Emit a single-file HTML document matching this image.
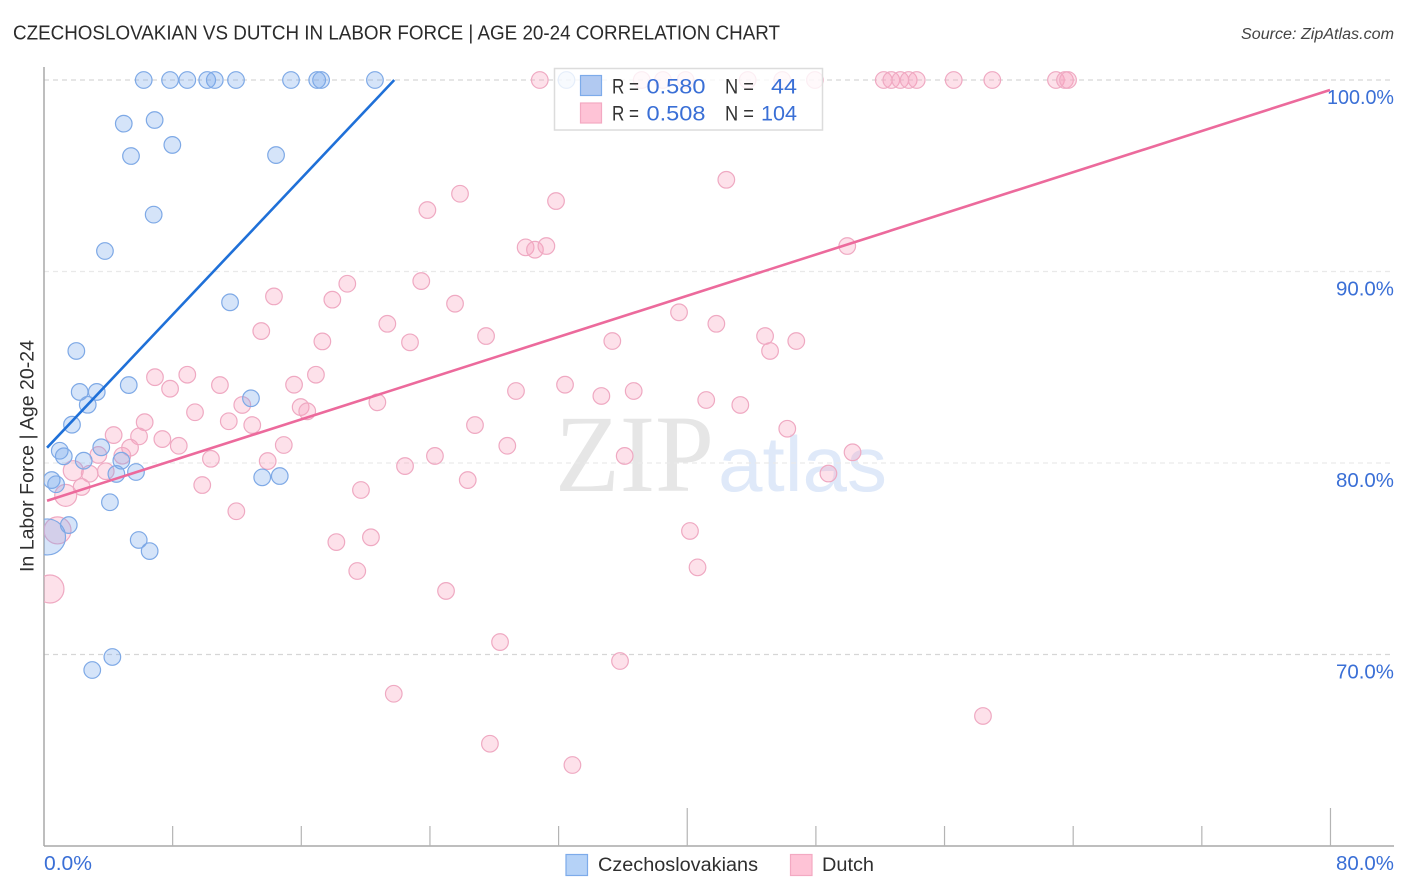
<!DOCTYPE html>
<html lang="en">
<head>
<meta charset="utf-8">
<title>Czechoslovakian vs Dutch in Labor Force | Age 20-24 Correlation Chart</title>
<style>
html,body{margin:0;padding:0;background:#fff;}
svg{display:block;font-family:"Liberation Sans",sans-serif;}
</style>
</head>
<body>
<svg id="chart" xmlns="http://www.w3.org/2000/svg" width="1406" height="892" viewBox="0 0 1406 892">
  <defs>
    <clipPath id="plot-clip"><rect x="44" y="60" width="1350" height="786"/></clipPath>
  </defs>
  <rect x="0" y="0" width="1406" height="892" fill="#ffffff"/>
  <text x="13" y="39.5" font-size="20" fill="#2b2b2b" textLength="767" lengthAdjust="spacingAndGlyphs">CZECHOSLOVAKIAN VS DUTCH IN LABOR FORCE | AGE 20-24 CORRELATION CHART</text>
  <text x="1241" y="39" font-size="15.5" font-style="italic" fill="#444444" textLength="153" lengthAdjust="spacingAndGlyphs">Source: ZipAtlas.com</text>
  <text x="555" y="491" font-family="'Liberation Serif',serif" font-size="110" fill="#e6e6e6" textLength="159" lengthAdjust="spacingAndGlyphs">ZIP</text>
  <text x="718" y="491" font-size="78" fill="#dfe9f9" textLength="169" lengthAdjust="spacingAndGlyphs">atlas</text>
  <g id="grid"></g>
  <g id="axes"></g>
  <g id="pink-points" clip-path="url(#plot-clip)"></g>
  <g id="blue-points" clip-path="url(#plot-clip)"></g>
  <g id="trends"></g>
  <g id="tick-labels" font-size="20" fill="#3a6fd6"></g>
  <text transform="translate(33.5,572) rotate(-90)" font-size="19" fill="#2f2f2f" textLength="232" lengthAdjust="spacingAndGlyphs">In Labor Force | Age 20-24</text>

  <g>
    <rect x="554.5" y="68.5" width="268" height="61.5" fill="#ffffff" fill-opacity="0.8" stroke="#dcdcdc" stroke-width="1.5"/>
    <rect x="580.5" y="75.5" width="21" height="20" fill="#b1c9f1" stroke="#7dabea" stroke-width="1.2"/>
    <rect x="580.5" y="103" width="21" height="20" fill="#fec3d6" stroke="#f3a9c2" stroke-width="1.2"/>
    <g font-size="21">
      <text x="612" y="93.5" fill="#333333" textLength="27" lengthAdjust="spacingAndGlyphs">R =</text>
      <text x="646.5" y="93.5" fill="#3a6fd6" textLength="59" lengthAdjust="spacingAndGlyphs">0.580</text>
      <text x="725" y="93.5" fill="#333333" textLength="29" lengthAdjust="spacingAndGlyphs">N =</text>
      <text x="771" y="93.5" fill="#3a6fd6" textLength="26" lengthAdjust="spacingAndGlyphs">44</text>
      <text x="612" y="120.5" fill="#333333" textLength="27" lengthAdjust="spacingAndGlyphs">R =</text>
      <text x="646.5" y="120.5" fill="#3a6fd6" textLength="59" lengthAdjust="spacingAndGlyphs">0.508</text>
      <text x="725" y="120.5" fill="#333333" textLength="29" lengthAdjust="spacingAndGlyphs">N =</text>
      <text x="761" y="120.5" fill="#3a6fd6" textLength="36" lengthAdjust="spacingAndGlyphs">104</text>
    </g>
  </g>

  <g>
    <rect x="566" y="854.5" width="21.5" height="21" fill="#b5d2f7" stroke="#7dabea" stroke-width="1.2"/>
    <text x="598" y="871" font-size="19" fill="#2f2f2f" textLength="160" lengthAdjust="spacingAndGlyphs">Czechoslovakians</text>
    <rect x="790.5" y="854.5" width="21.5" height="21" fill="#fec3d6" stroke="#f3a9c2" stroke-width="1.2"/>
    <text x="822" y="871" font-size="19" fill="#2f2f2f" textLength="52" lengthAdjust="spacingAndGlyphs">Dutch</text>
  </g>
</svg>
<script>
const yTickValues = [100, 90, 80, 70];
const yTickLabels = ["100.0%", "90.0%", "80.0%", "70.0%"];
const xTickValues = [8, 16, 24, 32, 40, 48, 56, 64, 72, 80];
const xMajorTicks = [40, 80];
const xEndValues = [0, 80];
const xEndLabels = ["0.0%", "80.0%"];

const blueX = [0.22, 6.20, 7.84, 8.91, 10.15, 10.62, 11.94, 15.36, 16.99, 17.23, 20.58, 32.49,
  4.96, 6.88, 7.98, 5.41, 14.43, 6.82, 3.79, 11.57, 2.01, 2.22, 3.28, 5.27, 2.72, 1.74, 12.87,
  0.98, 1.23, 3.56, 2.47, 4.81, 4.50, 5.72, 13.57, 14.66, 0.48, 0.75, 4.10, 1.54, 5.89, 6.57, 4.25, 3.00];
const blueY = [76.14, 100, 100, 100, 100, 100, 100, 100, 100, 100, 100, 100,
  97.72, 97.91, 96.61, 96.03, 96.08, 92.97, 91.07, 88.39, 85.85, 83.71, 83.71, 84.07, 83.04, 82.00, 83.38,
  80.64, 80.35, 80.82, 80.12, 80.12, 79.43, 79.53, 79.25, 79.32, 79.11, 78.89, 77.95, 76.76, 75.98, 75.40, 69.87, 69.19];
const blueWeight = [4.7];

const pinkX = [0.37, 0.84, 1.35, 1.82,
  30.83, 37.17, 38.49, 39.90, 43.76, 45.91, 47.94, 52.22, 52.69, 53.25, 53.77, 54.27, 56.57, 58.97, 62.93, 63.49, 63.68,
  25.87, 23.84, 14.30, 18.86, 17.93, 23.46, 25.56, 13.51, 17.31, 21.35, 22.76, 27.49,
  6.90, 7.84, 8.91, 10.94, 9.39, 12.33, 15.55, 16.91, 15.96, 16.37, 20.73, 11.49, 12.95, 7.36, 8.38, 14.91, 26.80,
  6.26, 4.33, 5.91, 5.35, 3.38, 4.87, 2.84, 3.84, 2.34, 10.38, 9.84, 11.96, 13.91,
  22.45, 24.31, 26.35, 19.71, 28.81, 18.18, 20.33, 19.48, 25.00, 28.36, 21.75, 27.73,
  31.84, 42.43, 29.95, 30.53, 31.24, 49.95, 35.34, 39.49, 41.81, 44.84, 45.15, 46.78,
  29.35, 32.40, 34.66, 36.67, 41.18, 43.30, 46.22, 36.11, 50.28, 48.78,
  40.17, 40.64, 35.82, 58.39, 32.86];
const pinkY = [73.42, 76.48, 78.31, 79.60,
  100, 100, 100, 100, 100, 100, 100, 100, 100, 100, 100, 100, 100, 100, 100, 100, 100,
  94.06, 93.21, 88.70, 89.36, 88.53, 89.50, 88.32, 86.89, 86.35, 87.27, 86.30, 86.63,
  84.48, 83.88, 84.61, 84.07, 82.65, 83.03, 84.09, 84.61, 82.92, 82.70, 83.17, 82.18, 81.98, 81.25, 80.90, 80.94, 81.98,
  82.13, 81.46, 81.39, 80.80, 80.42, 80.38, 79.44, 79.57, 78.75, 80.22, 78.85, 77.48, 80.10,
  79.84, 80.37, 79.11, 78.59, 80.90, 75.87, 76.12, 74.36, 73.32, 70.65, 67.95, 65.34,
  93.68, 94.79, 91.26, 91.14, 91.33, 91.33, 86.37, 87.87, 87.27, 86.63, 85.85, 86.37,
  83.76, 84.09, 83.50, 83.76, 83.29, 83.03, 81.79, 80.37, 80.56, 79.45,
  76.45, 74.55, 69.66, 66.79, 64.23];
const pinkWeight = [2.85, 2.65, 1.75, 1.45];

const blueTrendX = [0.19, 21.78];
const blueTrendY = [80.80, 100];
const pinkTrendX = [0.19, 79.97];
const pinkTrendY = [78.03, 99.48];

const NS = "http://www.w3.org/2000/svg";
function xScale(v) { return 44 + v * 16.081; }
function yScale(v) { return 80 + (100 - v) * 19.15; }
function radius(w) { return 8.3 * Math.sqrt(w); }
function labelWidth(s) { return s.length === 6 ? 67 : (s.length === 5 ? 58 : 48); }
function make(tag, parent, attrs) {
  const el = document.createElementNS(NS, tag);
  for (const k in attrs) el.setAttribute(k, attrs[k]);
  parent.appendChild(el);
  return el;
}

const gridG = document.getElementById("grid");
yTickValues.forEach(function (v, i) {
  const el = make("line", gridG, {
    x1: 44, x2: 1394, y1: yScale(v), y2: yScale(v),
    stroke: (v === 100 || v === 70) ? "#d6d6d6" : "#e9e9e9",
    "stroke-width": 1.2, "stroke-dasharray": "5 4"
  });
  
  
});

const axesG = document.getElementById("axes");
const yAxis = make("line", axesG, { x1: 44, x2: 44, y1: 67, y2: 846, stroke: "#a8a8a8", "stroke-width": 1.5 });


const xAxis = make("line", axesG, { x1: 44, x2: 1394, y1: 846, y2: 846, stroke: "#a8a8a8", "stroke-width": 1.5 });


xTickValues.forEach(function (v) {
  const top = xMajorTicks.indexOf(v) >= 0 ? 808 : 826;
  const el = make("line", axesG, { x1: xScale(v), x2: xScale(v), y1: top, y2: 846, stroke: "#b4b4b4", "stroke-width": 1.2 });
  
  
});

const pinkG = document.getElementById("pink-points");
pinkX.forEach(function (v, i) {
  const w = pinkWeight[i] === undefined ? 1 : pinkWeight[i];
  const el = make("circle", pinkG, {
    cx: xScale(v), cy: yScale(pinkY[i]), r: radius(w),
    fill: "#f9a3bf", "fill-opacity": 0.32, stroke: "#efa9c2", "stroke-width": 1.2
  });
  
  
});

const blueG = document.getElementById("blue-points");
blueX.forEach(function (v, i) {
  const w = blueWeight[i] === undefined ? 1 : blueWeight[i];
  const el = make("circle", blueG, {
    cx: xScale(v), cy: yScale(blueY[i]), r: radius(w),
    fill: "#74a6ea", "fill-opacity": 0.3, stroke: "#7ea9e6", "stroke-width": 1.2
  });
  
  
});

const trendG = document.getElementById("trends");
const blueLine = make("line", trendG, {
  x1: xScale(blueTrendX[0]), y1: yScale(blueTrendY[0]), x2: xScale(blueTrendX[1]), y2: yScale(blueTrendY[1]),
  stroke: "#1f70d8", "stroke-width": 2.6
});


const pinkLine = make("line", trendG, {
  x1: xScale(pinkTrendX[0]), y1: yScale(pinkTrendY[0]), x2: xScale(pinkTrendX[1]), y2: yScale(pinkTrendY[1]),
  stroke: "#ec6a9c", "stroke-width": 2.6
});



const labelG = document.getElementById("tick-labels");
yTickValues.forEach(function (v, i) {
  const w = labelWidth(yTickLabels[i]);
  const el = make("text", labelG, { x: 1394 - w, y: yScale(v) + 24, textLength: w, lengthAdjust: "spacingAndGlyphs" });
  el.textContent = yTickLabels[i];
  
  
});
xEndValues.forEach(function (v, i) {
  const w = labelWidth(xEndLabels[i]);
  const el = make("text", labelG, {
    x: i === 0 ? xScale(v) : 1394 - w, y: 870, textLength: w, lengthAdjust: "spacingAndGlyphs"
  });
  el.textContent = xEndLabels[i];
  
  
});
</script>
</body>
</html>
